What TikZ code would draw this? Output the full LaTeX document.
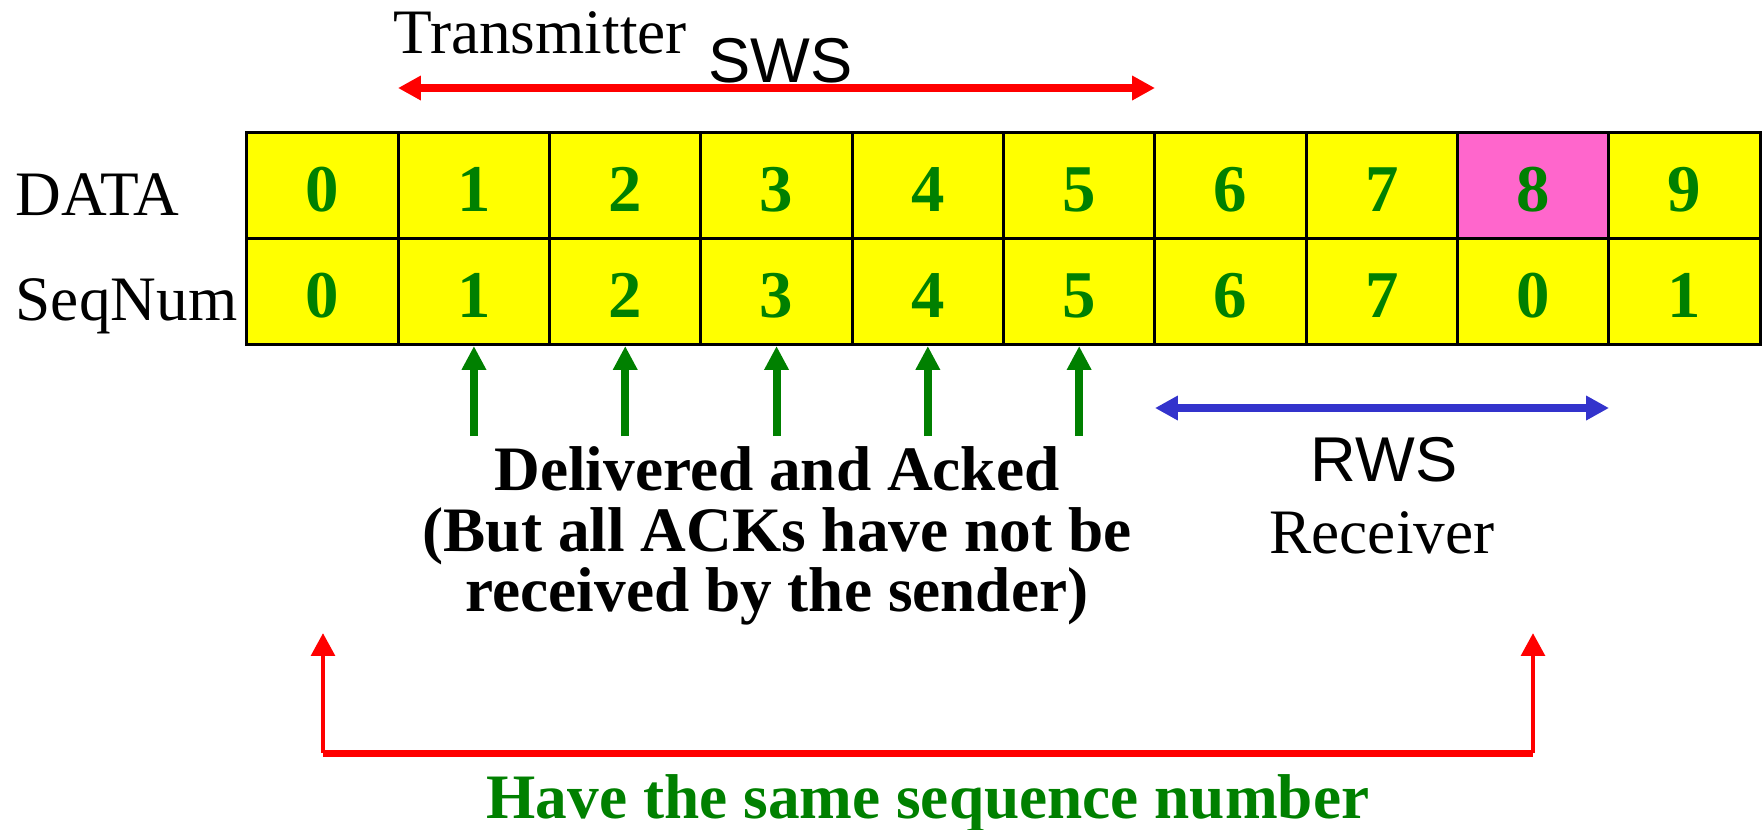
\documentclass[tikz,border=0pt]{standalone}
\usepackage{fontspec}
\setmainfont{Liberation Serif}
\newfontfamily\arialfont{Liberation Sans}
\usepackage{xcolor}
\usepackage{tikz}
\usetikzlibrary{arrows.meta}

\definecolor{cellyellow}{HTML}{FFFF00}
\definecolor{cellpink}{HTML}{FF66CC}
\definecolor{numgreen}{HTML}{008000}
\definecolor{winred}{HTML}{FF0000}
\definecolor{winblue}{HTML}{3333CC}

\begin{document}
\begin{tikzpicture}[x=0.01cm,y=-0.01cm,
    cell/.style={draw=black, line width=0.85pt, minimum width=1.513cm,
      minimum height=1.06cm, inner sep=0pt, text=numgreen,
      text height=15pt, text depth=0pt,
      font=\bfseries\fontsize{19}{19}\selectfont},
    txt/.style={inner sep=0pt, font=\fontsize{18}{18}\selectfont},
    sanstxt/.style={inner sep=0pt, font=\arialfont\fontsize{18}{18}\selectfont},
    winarrow/.style={line width=2.3pt,
      {Triangle[length=6.5pt,width=6.6pt]}-{Triangle[length=6.5pt,width=6.6pt]}},
    ackarrow/.style={numgreen, line width=2.3pt,
      -{Triangle[length=6.8pt,width=6.6pt]}},
    samearrow/.style={winred, line width=1.4pt,
      -{Triangle[length=6.5pt,width=6.6pt]}}
  ]
  \useasboundingbox (0,0) rectangle (1762,829);

  % DATA row
  \foreach \i/\c in {0/cellyellow,1/cellyellow,2/cellyellow,3/cellyellow,4/cellyellow,
      5/cellyellow,6/cellyellow,7/cellyellow,8/cellpink,9/cellyellow}
    \node[cell, fill=\c] (d\i) at ({247+151.3*(\i+0.5)},185.5) {\i};

  % SeqNum row
  \foreach \i/\s in {0/0,1/1,2/2,3/3,4/4,5/5,6/6,7/7,8/0,9/1}
    \node[cell, fill=cellyellow] (s\i) at ({247+151.3*(\i+0.5)},291.5) {\s};

  % Row labels
  \node[txt, anchor=base west] (datalbl) at (15,215) {DATA};
  \node[txt, anchor=base west] (seqlbl) at (15,320) {SeqNum};

  % Sender window
  \node[txt, anchor=base west] (txlbl) at (393,53) {Transmitter};
  \node[sanstxt, anchor=base west] (swslbl) at (708,82) {SWS};
  \coordinate (swsL) at (398,88);
  \coordinate (swsR) at (1155,88);
  \draw[winarrow, winred] (swsL) -- (swsR);

  % Acked frames
  \foreach \i in {1,...,5} {
    \coordinate (ack\i) at ({247+151.3*(\i+0.5)},436);
    \draw[ackarrow] (ack\i) -- (s\i.south);
  }
  \node[txt, align=center, anchor=north, font=\bfseries\fontsize{18}{17.2}\selectfont]
    (acklbl) at (777,446) {Delivered and Acked\\(But all ACKs have not be\\received by the sender)};

  % Receiver window
  \coordinate (rwsL) at (1155,408);
  \coordinate (rwsR) at (1609,408);
  \draw[winarrow, winblue] (rwsL) -- (rwsR);
  \node[sanstxt, anchor=base] (rwslbl) at (1384,481) {RWS};
  \node[txt, anchor=base] (rxlbl) at (1382,553) {Receiver};

  % Same sequence number
  \coordinate (sameL) at (323,753);
  \coordinate (sameR) at (1533,753);
  \coordinate (tipL) at (323,633);
  \coordinate (tipR) at (1533,633);
  \draw[winred, line width=2pt] (sameL) -- (sameR);
  \draw[samearrow] (sameL) -- (tipL);
  \draw[samearrow] (sameR) -- (tipR);
  \node[txt, anchor=base, text=numgreen, font=\bfseries\fontsize{18}{18}\selectfont]
    (samelbl) at (928,818) {Have the same sequence number};

\end{tikzpicture}
\end{document}
